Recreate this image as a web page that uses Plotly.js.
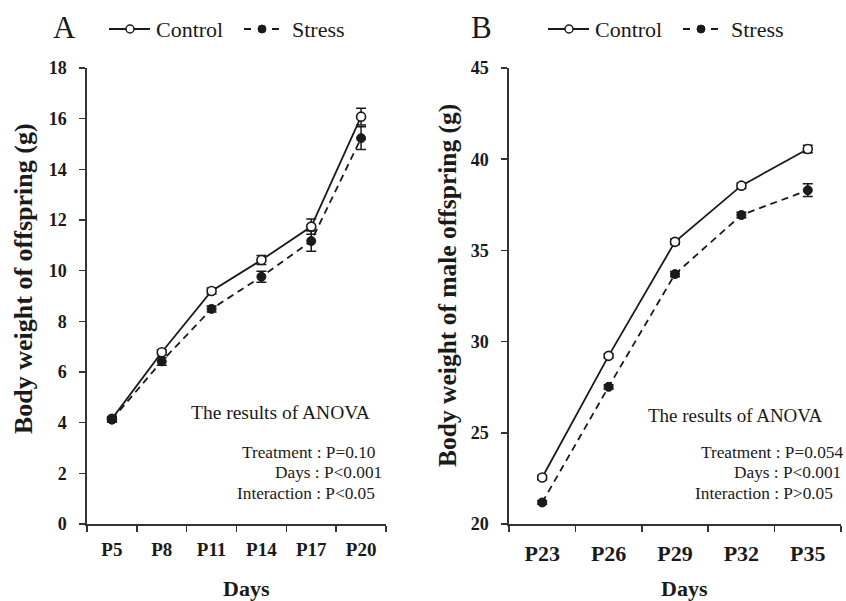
<!DOCTYPE html>
<html>
<head>
<meta charset="utf-8">
<script src="https://cdn.plot.ly/plotly-3.0.1.min.js"></script>
<style>html,body{margin:0;padding:0;background:#fff;}#chart{width:846px;height:601px;}</style>
</head>
<body>
<div id="chart"></div>
<script>
// ---- Data ----
const daysA = ['P5', 'P8', 'P11', 'P14', 'P17', 'P20'];
const controlA = [4.15, 6.78, 9.2, 10.42, 11.74, 16.08];
const controlAErr = [0.08, 0.1, 0.12, 0.18, 0.3, 0.33];
const stressA = [4.12, 6.42, 8.49, 9.76, 11.17, 15.23];
const stressAErr = [0.1, 0.15, 0.12, 0.22, 0.4, 0.45];

const daysB = ['P23', 'P26', 'P29', 'P32', 'P35'];
const controlB = [22.55, 29.22, 35.47, 38.55, 40.56];
const controlBErr = [0.12, 0.12, 0.15, 0.15, 0.2];
const stressB = [21.18, 27.52, 33.7, 36.94, 38.3];
const stressBErr = [0.1, 0.12, 0.15, 0.15, 0.35];

const yTitleA = 'Body weight of offspring (g)';
const yTitleB = 'Body weight of male offspring (g)';
const xTitle = 'Days';
const anovaA = ['Treatment : P=0.10', 'Days : P<0.001', 'Interaction : P<0.05'];
const anovaB = ['Treatment : P=0.054', 'Days : P<0.001', 'Interaction : P>0.05'];

// ---- Layout helpers (pixel -> paper) ----
const W = 846, H = 601, TOP = 68, BOT = 524;
const px = x => x / W;
const py = y => (BOT - y) / (BOT - TOP);
const SERIF = 'Liberation Serif, Times New Roman, serif';
const INK = '#1a1a1a';

function series(x, y, err, xa, ya, ctrl) {
  return {
    type: 'scatter', mode: 'lines+markers', x: x, y: y,
    xaxis: xa, yaxis: ya, showlegend: false, hoverinfo: 'skip',
    line: {color: INK, width: 1.8, dash: ctrl ? 'solid' : '7px,5px'},
    marker: ctrl ? {symbol: 'circle', size: 9, color: '#fff', line: {color: INK, width: 1.6}}
                 : {symbol: 'circle', size: 9, color: INK, line: {color: INK, width: 1}},
    error_y: {type: 'data', array: err, visible: true, color: INK, thickness: 1.5, width: 5}
  };
}

const traces = [
  series(daysA, controlA, controlAErr, 'x', 'y', true),
  series(daysA, stressA, stressAErr, 'x', 'y', false),
  series(daysB, controlB, controlBErr, 'x2', 'y2', true),
  series(daysB, stressB, stressBErr, 'x2', 'y2', false)
];

const axisCommon = {
  showline: true, linecolor: '#333', linewidth: 1.6, mirror: false,
  ticks: 'outside', ticklen: 6, tickwidth: 1.5, tickcolor: '#333',
  showgrid: false, zeroline: false, fixedrange: true
};

const layout = {
  width: W, height: H,
  margin: {l: 0, r: 0, t: TOP, b: H - BOT, pad: 0},
  paper_bgcolor: '#fff', plot_bgcolor: '#fff',
  showlegend: false,
  xaxis: Object.assign({}, axisCommon, {
    domain: [px(87), px(386)], anchor: 'y', type: 'category',
    categoryorder: 'array', categoryarray: daysA,
    range: [-0.5, daysA.length - 0.5], tickson: 'boundaries',
    ticklabelstandoff: 8,
    tickfont: {family: SERIF, size: 19, color: INK, weight: 'bold'}
  }),
  yaxis: Object.assign({}, axisCommon, {
    domain: [0, 1], anchor: 'x', range: [0, 18], dtick: 2, tick0: 0,
    ticklabelstandoff: 9,
    tickfont: {family: SERIF, size: 18, color: INK, weight: 'bold'}
  }),
  xaxis2: Object.assign({}, axisCommon, {
    domain: [px(509), px(841)], anchor: 'y2', type: 'category',
    categoryorder: 'array', categoryarray: daysB,
    range: [-0.5, daysB.length - 0.5], tickson: 'boundaries',
    ticklabelstandoff: 9,
    tickfont: {family: SERIF, size: 22, color: INK, weight: 'bold'}
  }),
  yaxis2: Object.assign({}, axisCommon, {
    domain: [0, 1], anchor: 'x2', range: [20, 45], dtick: 5, tick0: 20,
    ticklabelstandoff: 9,
    tickfont: {family: SERIF, size: 18, color: INK, weight: 'bold'}
  }),
  shapes: [],
  annotations: []
};

const ann = layout.annotations, shp = layout.shapes;
function txt(text, x, y, opts) {
  ann.push(Object.assign({
    text: text, xref: 'paper', yref: 'paper', x: px(x), y: py(y),
    xanchor: 'center', yanchor: 'middle', showarrow: false,
    font: {family: SERIF, size: 17, color: INK}
  }, opts || {}));
}

// Panel letters
txt('A', 64, 27, {font: {family: SERIF, size: 31, color: INK}});
txt('B', 481, 27, {font: {family: SERIF, size: 31, color: INK}});

// Custom legends
function legend(x0) {
  shp.push({type: 'line', xref: 'paper', yref: 'paper', x0: px(x0), x1: px(x0 + 41), y0: py(29), y1: py(29),
            line: {color: INK, width: 1.8}});
  shp.push({type: 'circle', xref: 'paper', yref: 'paper', x0: px(x0 + 17), x1: px(x0 + 25), y0: py(33), y1: py(25),
            fillcolor: '#fff', line: {color: INK, width: 1.5}});
  txt('Control', x0 + 45, 29, {xanchor: 'left', font: {family: SERIF, size: 22, color: INK}});
  const s0 = x0 + 135;
  shp.push({type: 'line', xref: 'paper', yref: 'paper', x0: px(s0), x1: px(s0 + 35), y0: py(29), y1: py(29),
            line: {color: INK, width: 1.8, dash: '7px,7px'}});
  shp.push({type: 'circle', xref: 'paper', yref: 'paper', x0: px(s0 + 14), x1: px(s0 + 22), y0: py(33), y1: py(25),
            fillcolor: INK, line: {color: INK, width: 1}});
  txt('Stress', s0 + 46, 29, {xanchor: 'left', font: {family: SERIF, size: 22, color: INK}});
}
legend(109);
legend(548);

// Axis titles
txt(yTitleA, 23, 279, {textangle: -90, font: {family: SERIF, size: 26, color: INK, weight: 'bold'}});
txt(yTitleB, 447, 286, {textangle: -90, font: {family: SERIF, size: 25.5, color: INK, weight: 'bold'}});
txt(xTitle, 247, 588, {font: {family: SERIF, size: 22, color: INK, weight: 'bold'}});
txt(xTitle, 684, 588, {font: {family: SERIF, size: 22, color: INK, weight: 'bold'}});

// ANOVA notes
txt('The results of ANOVA', 280, 412, {font: {family: SERIF, size: 19.5, color: INK}});
txt('The results of ANOVA', 735, 415, {font: {family: SERIF, size: 19, color: INK}});
const rowsY = [452, 472, 493];
const rightA = [377, 384, 377];
const rightB = [845, 843, 835];
anovaA.forEach((t, i) => txt(t, rightA[i], rowsY[i], {xanchor: 'right', font: {family: SERIF, size: 17.3, color: INK}}));
anovaB.forEach((t, i) => txt(t, rightB[i], rowsY[i], {xanchor: 'right', font: {family: SERIF, size: 17.3, color: INK}}));

Plotly.newPlot('chart', traces, layout, {displayModeBar: false, staticPlot: true});
</script>
</body>
</html>
